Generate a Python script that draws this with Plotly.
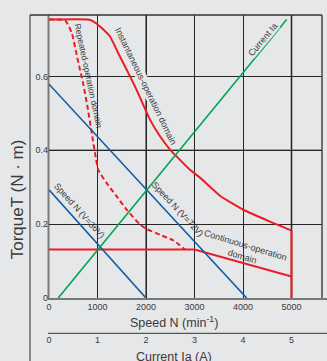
import plotly.graph_objects as go

# ---------------- data ----------------
speed_ticks = [0, 1000, 2000, 3000, 4000, 5000]
speed_tick_text = ["0", "1000", "2000", "3000", "4000", "5000"]
current_ticks = [0, 1, 2, 3, 4, 5]
current_tick_text = ["0", "1", "2", "3", "4", "5"]
torque_ticks = [0, 0.2, 0.4, 0.6]
torque_tick_text = ["0", "0.2", "0.4", "0.6"]

# Instantaneous-operation domain boundary (speed min^-1, torque N·m)
inst_speed = [0, 804, 928, 1052, 1258, 1423, 1602, 1773, 1944, 2082, 2289,
              2495, 2633, 2907, 3113, 3526, 4006, 4557, 5000]
inst_torque = [0.754, 0.754, 0.748, 0.735, 0.708, 0.664, 0.618, 0.573, 0.523,
               0.483, 0.438, 0.402, 0.383, 0.347, 0.326, 0.277, 0.239, 0.207, 0.183]

# Repeated-operation domain boundary
rep_speed = [0, 330, 468, 598, 701, 804, 880, 948, 1016, 1190, 1396, 1602,
             1876, 2014, 2289, 2563, 2804]
rep_torque = [0.754, 0.752, 0.718, 0.642, 0.583, 0.510, 0.448, 0.393, 0.347,
              0.311, 0.275, 0.239, 0.199, 0.187, 0.171, 0.156, 0.131]

# Continuous-operation domain boundary
cont_speed = [0, 3000, 5000]
cont_torque = [0.131, 0.131, 0.058]

# Current Ia (A) vs torque
curr_amp = [0.19, 4.90]
curr_torque = [0.0, 0.754]

# Speed lines
v36_speed = [0, 2000]
v36_torque = [0.293, 0.0]
v72_speed = [0, 4076]
v72_torque = [0.579, 0.0]

# ---------------- layout helpers ----------------
W, H = 327, 361
L, R, T = 49, 322, 15
X0_BOTTOM = 298          # pixel y of the speed axis
PXS = 48.5 / 1000        # px per rpm
PYT = 369.3              # px per N·m
plot_h = H - T


def px(x):
    return (x - L) / (R - L)


def py(y):
    return (H - y) / plot_h


RED = "#ed1c24"
BLUE = "#0d5ba8"
GREEN = "#00a651"
TXT = "#3a3a3a"
BG = "#e6e7e9"
LABEL_FONT = "Liberation Sans, Arial, sans-serif"
MAIN_FONT = "Liberation Sans, Arial, sans-serif"

fig = go.Figure()

fig.add_trace(go.Scatter(x=cont_speed, y=cont_torque, mode="lines",
                         line=dict(color=RED, width=2), hoverinfo="skip", cliponaxis=False))
fig.add_trace(go.Scatter(x=rep_speed, y=rep_torque, mode="lines",
                         line=dict(color=RED, width=2, dash="5px,3px", shape="spline", smoothing=0.5),
                         hoverinfo="skip"))
fig.add_trace(go.Scatter(x=inst_speed, y=inst_torque, mode="lines",
                         line=dict(color=RED, width=2, shape="spline", smoothing=0.5),
                         hoverinfo="skip"))
fig.add_trace(go.Scatter(x=[inst_speed[-1], inst_speed[-1]], y=[inst_torque[-1], 0],
                         mode="lines", line=dict(color=RED, width=2), hoverinfo="skip",
                         cliponaxis=False))
fig.add_trace(go.Scatter(x=v36_speed, y=v36_torque, mode="lines",
                         line=dict(color=BLUE, width=1.6), hoverinfo="skip"))
fig.add_trace(go.Scatter(x=v72_speed, y=v72_torque, mode="lines",
                         line=dict(color=BLUE, width=1.6), hoverinfo="skip"))
fig.add_trace(go.Scatter(x=curr_amp, y=curr_torque, mode="lines", xaxis="x2",
                         line=dict(color=GREEN, width=1.6), hoverinfo="skip"))

x_max = (R - L) / PXS
y_max = (X0_BOTTOM - T) / PYT
y_dom0 = py(X0_BOTTOM)

fig.update_layout(
    width=W, height=H,
    margin=dict(l=L, r=W - R, t=T, b=0, pad=0, autoexpand=False),
    paper_bgcolor=BG, plot_bgcolor=BG,
    showlegend=False,
    font=dict(family=MAIN_FONT, color=TXT),
    xaxis=dict(range=[0, x_max], tickvals=speed_ticks, ticktext=speed_tick_text,
               showgrid=True, gridcolor="#262626", gridwidth=1, zeroline=False,
               showline=False, ticks="", tickfont=dict(size=9, color=TXT),
               ticklabelstandoff=2,
               anchor="y", fixedrange=True, automargin=False),
    xaxis2=dict(range=[0, x_max / 1000], tickvals=current_ticks, ticktext=current_tick_text,
                overlaying="x", anchor="free", position=py(333.3), side="bottom",
                showgrid=False, zeroline=False, showline=False, ticks="",
                tickfont=dict(size=9, color=TXT), fixedrange=True, automargin=False),
    yaxis=dict(range=[0, y_max], domain=[y_dom0, 1], tickvals=torque_ticks,
               ticktext=torque_tick_text, showgrid=True, gridcolor="#262626",
               gridwidth=1, zeroline=False, showline=False, ticks="",
               tickfont=dict(size=9, color=TXT), fixedrange=True, automargin=False),
)

shapes = []
# heavier gray grid lines
for v in [2000, 5000]:
    shapes.append(dict(type="line", xref="x", yref="paper", x0=v, x1=v, y0=y_dom0, y1=1,
                       line=dict(color="#7c7c7c", width=2), layer="between"))
shapes.append(dict(type="line", xref="paper", yref="y", x0=0, x1=1, y0=0.4, y1=0.4,
                   line=dict(color="#5e5e5e", width=1.6), layer="between"))
# frame lines
shapes += [
    dict(type="line", xref="paper", yref="paper", x0=px(30), x1=px(30), y0=0, y1=1,
         line=dict(color="#8a8a8a", width=2)),
    dict(type="line", xref="paper", yref="paper", x0=px(30), x1=1, y0=1, y1=1,
         line=dict(color="#333333", width=1.5)),
    dict(type="line", xref="paper", yref="paper", x0=1, x1=1, y0=y_dom0, y1=1,
         line=dict(color="#444444", width=1.5)),
    dict(type="line", xref="paper", yref="paper", x0=px(48.5), x1=px(48.5), y0=y_dom0, y1=1,
         line=dict(color="#7a7a7a", width=2), layer="between"),
    dict(type="line", xref="paper", yref="paper", x0=px(48), x1=px(327), y0=py(299), y1=py(299),
         line=dict(color="#555555", width=1.5), layer="between"),
    dict(type="line", xref="paper", yref="paper", x0=px(48), x1=px(327), y0=py(333.3), y1=py(333.3),
         line=dict(color="#333333", width=1)),
]
fig.update_layout(shapes=shapes)

ann = []


def label(text, cx, cy, angle, size=9, family=LABEL_FONT, knock=False):
    a = dict(text=text, xref="paper", yref="paper", x=px(cx), y=py(cy),
             xanchor="center", yanchor="middle", showarrow=False,
             textangle=angle, font=dict(size=size, family=family, color=TXT))
    if knock:
        a.update(bgcolor=BG, borderpad=0)
    ann.append(a)


label("Repeated-operation domain", 88.5, 76, 78, size=8.6)
label("Instantaneous-operation domain", 146, 85.5, 64, knock=True)
label("Current Ia", 262.5, 40, -50, knock=True)
label("Speed N (V=36V)", 79.7, 210.8, 48)
label("Speed N (V=72V)", 177.3, 209.4, 47)
label("Continuous-operation<br>domain", 244, 250.5, 17)
label("TorqueT (N · m)", 18.3, 199, -90, size=17, family=MAIN_FONT)
label("Speed N (min<sup>-1</sup>)", 174, 321.7, 0, size=12.5, family=MAIN_FONT)
label("Current Ia (A)", 174, 356.5, 0, size=12.5, family=MAIN_FONT)
fig.update_layout(annotations=ann)

fig.write_html("out.html")
